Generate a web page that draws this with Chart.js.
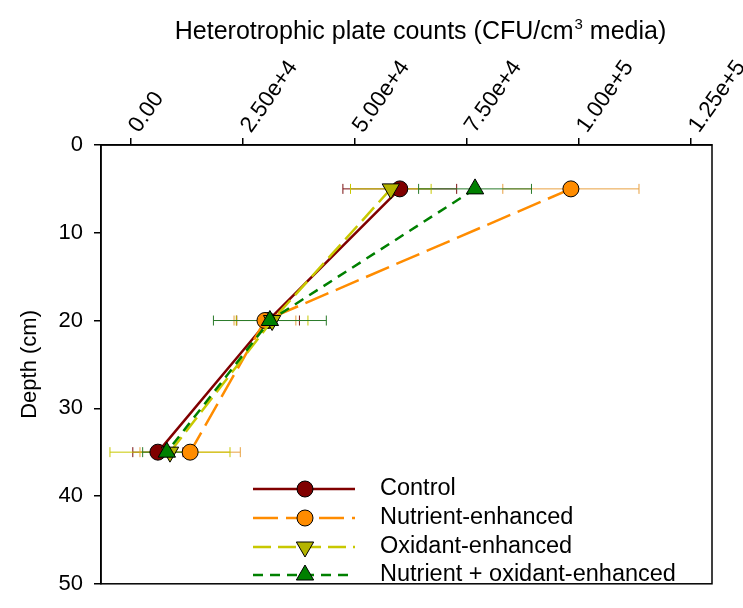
<!DOCTYPE html>
<html>
<head>
<meta charset="utf-8">
<script src="https://cdn.jsdelivr.net/npm/chart.js@4/dist/chart.umd.min.js"></script>
<style>
    html, body { margin: 0; padding: 0; background: #fff; }
</style>
</head>
<body>
<canvas id="depthChart" width="743" height="608"></canvas>
<script>
// --- DATA ---
const depths = [5, 20, 35];

const controlMean = [60000, 30600, 6000];
const controlErr = [12700, 7000, 5600];

const nutrientMean = [98200, 29900, 13200];
const nutrientErr = [15200, 6900, 11200];

const oxidantMean = [58000, 31500, 8700];
const oxidantErr = [9000, 8000, 13400];

const combinedMean = [76800, 31000, 8000];
const combinedErr = [12600, 12600, 5400];

const xTickValues = [0, 25000, 50000, 75000, 100000, 125000];
const xTickLabels = ['0.00', '2.50e+4', '5.00e+4', '7.50e+4', '1.00e+5', '1.25e+5'];

const FONT = "'Liberation Sans', Arial, sans-serif";

function toPoints(means) {
    return means.map((m, i) => ({ x: m, y: depths[i] }));
}

// --- PLUGINS ---
// horizontal error bars, drawn under the lines and markers
const errorBarPlugin = {
    id: 'errorBars',
    beforeDatasetsDraw(chart) {
        const ctx = chart.ctx;
        const xs = chart.scales.x;
        const ys = chart.scales.y;
        ctx.save();
        ctx.lineWidth = 1;
        chart.data.datasets.forEach(ds => {
            ctx.strokeStyle = ds.errorColor;
            ds.data.forEach((pt, i) => {
                const err = ds.errors[i];
                const y = ys.getPixelForValue(pt.y);
                const x0 = xs.getPixelForValue(pt.x - err);
                const x1 = xs.getPixelForValue(pt.x + err);
                ctx.beginPath();
                ctx.moveTo(x0, y); ctx.lineTo(x1, y);
                ctx.moveTo(x0, y - 5); ctx.lineTo(x0, y + 5);
                ctx.moveTo(x1, y - 5); ctx.lineTo(x1, y + 5);
                ctx.stroke();
            });
        });
        ctx.restore();
    }
};

// box round the plot area
const framePlugin = {
    id: 'frame',
    afterDraw(chart) {
        const { left, right, top, bottom } = chart.chartArea;
        const ctx = chart.ctx;
        ctx.save();
        ctx.strokeStyle = '#000';
        ctx.lineWidth = 1.5;
        ctx.strokeRect(left, top, right - left, bottom - top);
        ctx.restore();
    }
};

// x axis title with a superscript 3
const xTitlePlugin = {
    id: 'xTitle',
    afterDraw(chart) {
        const ctx = chart.ctx;
        const partA = 'Heterotrophic plate counts (CFU/cm';
        const sup = '3';
        const partB = ' media)';
        ctx.save();
        ctx.fillStyle = '#000';
        ctx.textBaseline = 'alphabetic';
        ctx.font = '25px ' + FONT;
        const wA = ctx.measureText(partA).width;
        const wB = ctx.measureText(partB).width;
        ctx.font = '15px ' + FONT;
        const wS = ctx.measureText(sup).width;
        const total = wA + wS + wB;
        let x = 420 - total / 2;
        const y = 39;
        ctx.font = '25px ' + FONT;
        ctx.fillText(partA, x, y);
        x += wA;
        ctx.font = '15px ' + FONT;
        ctx.fillText(sup, x + 1, y - 10);
        x += wS + 1;
        ctx.font = '25px ' + FONT;
        ctx.fillText(partB, x, y);
        ctx.restore();
    }
};

// legend inside the plot, lower right
const legendPlugin = {
    id: 'insideLegend',
    afterDraw(chart) {
        const ctx = chart.ctx;
        const drawPoint = Chart.helpers.drawPoint;
        const rowY = [489, 518, 547, 575];
        ctx.save();
        chart.data.datasets.forEach((ds, i) => {
            const y = rowY[i];
            ctx.strokeStyle = ds.borderColor;
            ctx.lineWidth = ds.borderWidth;
            ctx.setLineDash(ds.borderDash || []);
            ctx.beginPath();
            ctx.moveTo(253, y);
            ctx.lineTo(355, y);
            ctx.stroke();
            ctx.setLineDash([]);
            ctx.fillStyle = ds.pointBackgroundColor;
            ctx.strokeStyle = ds.pointBorderColor;
            ctx.lineWidth = ds.pointBorderWidth;
            drawPoint(ctx, {
                pointStyle: ds.pointStyle,
                rotation: ds.pointRotation || 0,
                radius: ds.pointRadius,
                borderWidth: ds.pointBorderWidth
            }, 305, y);
            ctx.fillStyle = '#000';
            ctx.font = '23.5px ' + FONT;
            ctx.textBaseline = 'middle';
            ctx.fillText(ds.label, 380, y);
        });
        ctx.restore();
    }
};

// --- CHART ---
const ctx = document.getElementById('depthChart').getContext('2d');
new Chart(ctx, {
    type: 'scatter',
    data: {
        datasets: [
            {
                label: 'Control',
                data: toPoints(controlMean),
                errors: controlErr,
                errorColor: '#7a1010',
                showLine: true,
                borderColor: '#800000',
                borderWidth: 2.5,
                pointStyle: 'circle',
                pointRadius: 8,
                pointBackgroundColor: '#800000',
                pointBorderColor: '#000',
                pointBorderWidth: 1,
                order: 3
            },
            {
                label: 'Nutrient-enhanced',
                data: toPoints(nutrientMean),
                errors: nutrientErr,
                errorColor: '#e8a040',
                showLine: true,
                borderColor: '#ff8c00',
                borderWidth: 2.5,
                borderDash: [25, 8],
                pointStyle: 'circle',
                pointRadius: 8,
                pointBackgroundColor: '#ff8c00',
                pointBorderColor: '#000',
                pointBorderWidth: 1,
                order: 2
            },
            {
                label: 'Oxidant-enhanced',
                data: toPoints(oxidantMean),
                errors: oxidantErr,
                errorColor: '#c8c800',
                showLine: true,
                borderColor: '#c8c800',
                borderWidth: 2.5,
                borderDash: [18, 7],
                pointStyle: 'triangle',
                pointRotation: 180,
                pointRadius: 10,
                pointBackgroundColor: '#b4b400',
                pointBorderColor: '#000',
                pointBorderWidth: 1,
                order: 1
            },
            {
                label: 'Nutrient + oxidant-enhanced',
                data: toPoints(combinedMean),
                errors: combinedErr,
                errorColor: '#2a7a2a',
                showLine: true,
                borderColor: '#008000',
                borderWidth: 2.5,
                borderDash: [10, 7],
                pointStyle: 'triangle',
                pointRadius: 10,
                pointBackgroundColor: '#008000',
                pointBorderColor: '#000',
                pointBorderWidth: 1,
                order: 0
            }
        ]
    },
    options: {
        responsive: false,
        animation: false,
        layout: { padding: { top: 0, left: 0, right: 31, bottom: 8 } },
        plugins: {
            legend: { display: false },
            tooltip: { enabled: false }
        },
        scales: {
            x: {
                type: 'linear',
                position: 'top',
                min: -6700,
                max: 129700,
                afterBuildTicks: scale => {
                    scale.ticks = xTickValues.map(v => ({ value: v }));
                },
                afterFit: scale => { scale.height = 145; },
                grid: { display: true, drawOnChartArea: false, tickLength: 7, color: '#000', lineWidth: 1.5 },
                border: { display: true, color: '#000', width: 1.5 },
                ticks: {
                    autoSkip: false,
                    minRotation: 55,
                    maxRotation: 55,
                    padding: 0,
                    labelOffset: 25,
                    color: '#000',
                    font: { family: FONT, size: 22.5 },
                    callback: (value, index) => xTickLabels[index]
                }
            },
            y: {
                type: 'linear',
                position: 'left',
                reverse: true,
                min: 0,
                max: 50,
                afterFit: scale => { scale.width = 101; },
                grid: { display: true, drawOnChartArea: false, tickLength: 7, color: '#000', lineWidth: 1.5 },
                border: { display: true, color: '#000', width: 1.5 },
                ticks: {
                    stepSize: 10,
                    padding: 11,
                    color: '#000',
                    font: { family: FONT, size: 22 }
                },
                title: {
                    display: true,
                    text: 'Depth (cm)',
                    color: '#000',
                    font: { family: FONT, size: 22 },
                    padding: { top: 17, bottom: 0 }
                }
            }
        }
    },
    plugins: [errorBarPlugin, framePlugin, xTitlePlugin, legendPlugin]
});
</script>
</body>
</html>
